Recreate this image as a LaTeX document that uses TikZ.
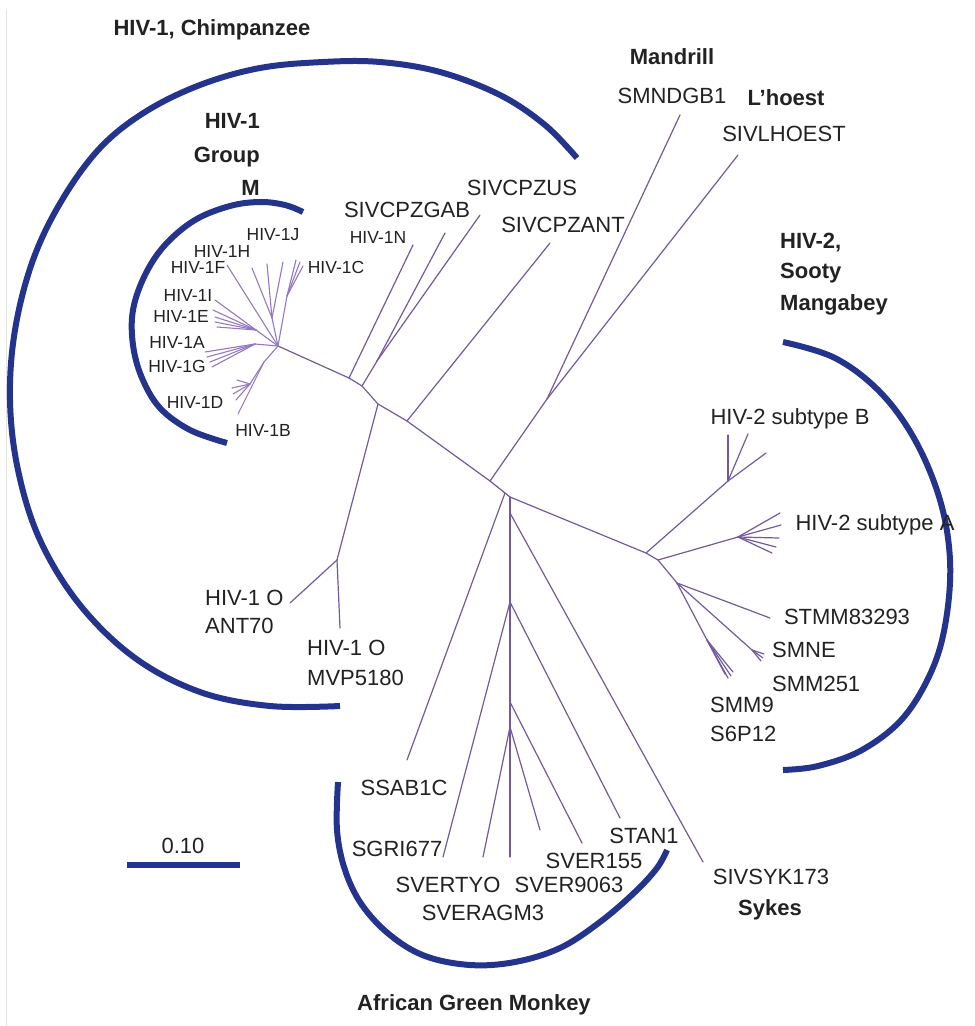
\documentclass[tikz,border=0pt]{standalone}
\usepackage{fontspec}
\setmainfont{Liberation Sans}
\definecolor{txt}{HTML}{222222}
\definecolor{branch}{HTML}{735A9C}
\definecolor{lbranch}{HTML}{9479C0}
\definecolor{arcblue}{HTML}{24348C}
\begin{document}
\begin{tikzpicture}[x=1pt,y=-1pt,
  lab/.style={font=\fontsize{22}{28}\selectfont, text=txt, inner sep=0pt},
  slab/.style={font=\fontsize{17.5}{20}\selectfont, text=txt, inner sep=0pt},
  blab/.style={font=\bfseries\fontsize{22}{25}\selectfont, text=txt, inner sep=0pt},
  br/.style={draw=branch, line width=1.2pt, line cap=round},
  lbr/.style={draw=lbranch, line width=1.1pt, line cap=round},
  clade/.style={draw=arcblue, line width=6pt}]
\useasboundingbox (0,0) rectangle (975,1026);
\fill[white] (0,0) rectangle (975,1026);
\draw[gray!20, line width=1pt] (6,10) -- (6,1026);

% ---------- clade arcs ----------
\draw[clade] plot[smooth, tension=0.6] coordinates {(577,158) (545,125) (500,95) (440,72) (380,62) (323,62) (260,68) (200,85) (145,112) (100,148) (62,200) (33,260) (15,330) (10,400) (18,470) (40,540) (80,605) (135,658) (200,692) (270,706) (340,706)};
\draw[clade] plot[smooth, tension=0.6] coordinates {(303,212) (285,205) (260,202) (230,206) (195,220) (165,245) (145,275) (133,310) (133,345) (142,378) (160,408) (190,430) (227,443)};
\draw[clade] plot[smooth, tension=0.6] coordinates {(783,342) (835,358) (880,392) (915,440) (940,500) (950,560) (946,620) (932,670) (903,718) (862,750) (818,766) (783,770)};
\draw[clade] plot[smooth, tension=0.6] coordinates {(338,782) (337,830) (345,870) (362,905) (390,935) (425,956) (470,965) (515,962) (560,948) (600,922) (635,892) (657,868) (667,850)};

% scale bar
\coordinate (sb1) at (127,865);
\coordinate (sb2) at (240,865);
\draw[clade] (sb1) -- (sb2);
\node[lab, anchor=base] (scale) at (183,853) {0.10};

% ---------- tree coordinates ----------
\coordinate (gm) at (278,346);
\coordinate (n1) at (349,378);
\coordinate (n2) at (362,386);
\coordinate (n2s) at (377,361);
\coordinate (n3) at (378,404);
\coordinate (n4) at (407,421);
\coordinate (n5) at (490,481);
\coordinate (n5s) at (547,399);
\coordinate (hubA) at (505,493);
\coordinate (hubB) at (510,497);
\coordinate (syk) at (510,513);
\coordinate (h2a) at (646,553);
\coordinate (h2b) at (658,560);

% leaves chimp
\coordinate (lN) at (413,245);
\coordinate (lGAB) at (445,233);
\coordinate (lUS) at (480,215);
\coordinate (lANT) at (550,243);
\coordinate (lMND) at (680,115);
\coordinate (lLH) at (738,155);
\coordinate (oN) at (337,560);
\coordinate (lANT70) at (290,603);
\coordinate (lMVP) at (340,628);

% AGM
\coordinate (v1) at (510,602);
\coordinate (v2) at (510,702);
\coordinate (v3) at (510,727);
\coordinate (lAGM3) at (510,857);
\coordinate (lSSAB) at (407,760);
\coordinate (lSGRI) at (443,857);
\coordinate (lSTAN) at (620,818);
\coordinate (lV155) at (582,843);
\coordinate (lTYO) at (483,857);
\coordinate (lV9063) at (540,830);
\coordinate (lSYK) at (703,862);

% HIV-2
\coordinate (bN) at (728,481);
\coordinate (aN) at (738,537);
\coordinate (smm) at (677,583);
\coordinate (neN) at (752,650);
\coordinate (s9N) at (707,640);

% backbone
\draw[br] (gm) -- (n1) -- (n2) -- (n3) -- (n4) -- (n5) -- (hubA) -- (hubB) -- (h2a) -- (h2b);
\draw[br] (n1) -- (lN);
\draw[br] (n2) -- (n2s);
\draw[br] (n2s) -- (lGAB);
\draw[br] (n2s) -- (lUS);
\draw[br] (n4) -- (lANT);
\draw[br] (n5) -- (n5s);
\draw[br] (n5s) -- (lMND);
\draw[br] (n5s) -- (lLH);
\draw[br] (n3) -- (oN);
\draw[br] (oN) -- (lANT70);
\draw[br] (oN) -- (lMVP);

% AGM branches
\draw[br] (hubA) -- (lSSAB);
\draw[br] (hubB) -- (v1) -- (v2) -- (v3) -- (lAGM3);
\draw[br] (v1) -- (lSGRI);
\draw[br] (v1) -- (lSTAN);
\draw[br] (v2) -- (lV155);
\draw[br] (v3) -- (lTYO);
\draw[br] (v3) -- (lV9063);
\draw[br] (syk) -- (lSYK);

% HIV-2 branches
\draw[br] (h2a) -- (bN);
\foreach \p in {(728,435),(748,434),(766,453)} \draw[br] (bN) -- \p;
\draw[br] (h2b) -- (aN);
\foreach \p in {(780,513),(781,525),(779,538),(776,547),(772,553)} \draw[br] (aN) -- \p;
\draw[br] (h2b) -- (smm);
\draw[br] (smm) -- (770,618);
\draw[br] (smm) -- (neN);
\foreach \p in {(764,654),(763,658),(761,661)} \draw[br] (neN) -- \p;
\draw[br] (smm) -- (s9N);
\foreach \p in {(725,674),(728,678),(731,676),(733,672)} \draw[br] (s9N) -- \p;

% Group M fan
\coordinate (bd) at (264,362);
\coordinate (bd2) at (250,384);
\coordinate (ag) at (255,344);
\coordinate (ei) at (256,330);
\coordinate (hj) at (272,318);
\coordinate (cn) at (287,296);
\draw[lbr] (gm) -- (bd) -- (bd2);
\draw[lbr] (bd) -- (238,414);
\foreach \p in {(232,388),(233,394),(236,400),(237,380)} \draw[lbr] (bd2) -- \p;
\draw[lbr] (gm) -- (ag);
\foreach \p in {(205,352),(207,357),(210,362),(212,367)} \draw[lbr] (ag) -- \p;
\draw[lbr] (gm) -- (ei);
\foreach \p in {(215,300),(213,310),(215,317),(215,322),(217,327)} \draw[lbr] (ei) -- \p;
\draw[lbr] (gm) -- (227,265);
\draw[lbr] (gm) -- (hj);
\foreach \p in {(252,268),(267,264),(283,262)} \draw[lbr] (hj) -- \p;
\draw[lbr] (gm) -- (cn);
\foreach \p in {(296,260),(300,262),(303,266)} \draw[lbr] (cn) -- \p;

% ---------- labels ----------
\node[blab, anchor=base] (chimp) at (212,35) {HIV-1, Chimpanzee};
\node[blab, anchor=base east] (gm1) at (260,128) {HIV-1};
\node[blab, anchor=base east] (gm2) at (260,162) {Group};
\node[blab, anchor=base east] (gm3) at (260,195) {M};
\node[blab, anchor=base] (mand) at (672,64) {Mandrill};
\node[lab, anchor=base] (smndgb) at (672,103) {SMNDGB1};
\node[blab, anchor=base] (lhoest) at (786,105) {L’hoest};
\node[lab, anchor=base] (sivlh) at (784,141) {SIVLHOEST};
\node[lab, anchor=base] (us) at (522,195) {SIVCPZUS};
\node[lab, anchor=base] (gab) at (407,217) {SIVCPZGAB};
\node[lab, anchor=base] (ant) at (563,232) {SIVCPZANT};
\node[slab, anchor=base] (h1n) at (378,243) {HIV-1N};
\node[slab, anchor=base] (h1c) at (336,273) {HIV-1C};
\node[slab, anchor=base] (h1j) at (273,240) {HIV-1J};
\node[slab, anchor=base] (h1h) at (222,257) {HIV-1H};
\node[slab, anchor=base] (h1f) at (198,273) {HIV-1F};
\node[slab, anchor=base] (h1i) at (188,301) {HIV-1I};
\node[slab, anchor=base] (h1e) at (181,322) {HIV-1E};
\node[slab, anchor=base] (h1a) at (177,348) {HIV-1A};
\node[slab, anchor=base] (h1g) at (177,372) {HIV-1G};
\node[slab, anchor=base] (h1d) at (195,408) {HIV-1D};
\node[slab, anchor=base] (h1b) at (263,436) {HIV-1B};
\node[lab, anchor=base west] (o1a) at (205,605) {HIV-1 O};
\node[lab, anchor=base west] (o1b) at (205,633) {ANT70};
\node[lab, anchor=base west] (o2a) at (307,655) {HIV-1 O};
\node[lab, anchor=base west] (o2b) at (307,685) {MVP5180};
\node[blab, anchor=base west] (sm1) at (780,248) {HIV-2,};
\node[blab, anchor=base west] (sm2) at (780,278) {Sooty};
\node[blab, anchor=base west] (sm3) at (780,310) {Mangabey};
\node[lab, anchor=base] (subB) at (790,424) {HIV-2 subtype B};
\node[lab, anchor=base] (subA) at (875,530) {HIV-2 subtype A};
\node[lab, anchor=base] (stmm) at (847,624) {STMM83293};
\node[lab, anchor=base west] (smne) at (772,657) {SMNE};
\node[lab, anchor=base west] (smm251) at (772,691) {SMM251};
\node[lab, anchor=base west] (smm9) at (710,712) {SMM9};
\node[lab, anchor=base west] (s6p12) at (710,741) {S6P12};
\node[lab, anchor=base] (ssab) at (404,795) {SSAB1C};
\node[lab, anchor=base] (sgri) at (397,856) {SGRI677};
\node[lab, anchor=base] (tyo) at (448,892) {SVERTYO};
\node[lab, anchor=base] (v9063) at (569,892) {SVER9063};
\node[lab, anchor=base] (v155) at (594,868) {SVER155};
\node[lab, anchor=base] (stan) at (644,843) {STAN1};
\node[lab, anchor=base] (agm3) at (483,920) {SVERAGM3};
\node[lab, anchor=base] (syk173) at (771,884) {SIVSYK173};
\node[blab, anchor=base] (sykes) at (770,915) {Sykes};
\node[blab, anchor=base] (agm) at (474,1010) {African Green Monkey};
\end{tikzpicture}
\end{document}
